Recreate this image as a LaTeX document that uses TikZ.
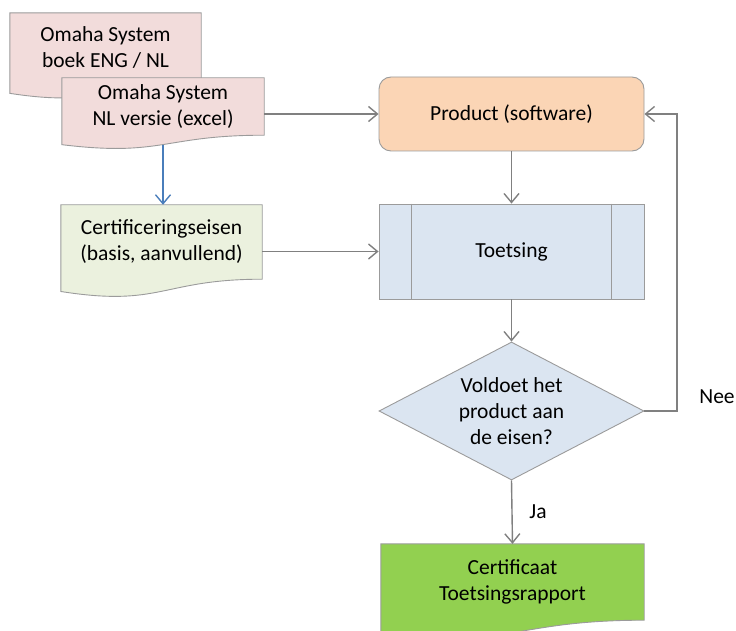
\documentclass[tikz,border=0pt]{standalone}
\usepackage{fontspec}
\setmainfont{Carlito}
\usetikzlibrary{shapes.geometric,arrows.meta,calc,backgrounds}

\definecolor{shapeline}{RGB}{155,155,155}
\definecolor{conline}{RGB}{128,128,128}
\definecolor{arrowblue}{RGB}{74,126,187}
\definecolor{pinkfill}{RGB}{242,220,219}
\definecolor{orangefill}{RGB}{251,213,181}
\definecolor{bluefill}{RGB}{219,229,241}
\definecolor{certfill}{RGB}{235,241,222}
\definecolor{greenfill}{RGB}{146,208,80}

\tikzset{
  docnode/.style={inner sep=0pt, align=center},
  procbox/.style={draw=shapeline, line width=0.9pt, inner sep=0pt, align=center,
    minimum width=265pt},
  conn/.style={draw=conline, line width=1.4pt, -{Straight Barb[length=9pt,width=15pt]}}
}

% document outline with the wavy bottom, drawn behind the node
\newcommand{\docshape}[2]{%
  \path[draw=shapeline, fill=#2, line width=0.9pt]
    (#1.north west) -- (#1.north east) -- (#1.south east)
    .. controls (#1.south) and ($(#1.north)!1.380!(#1.south)$) ..
    ($(#1.north west)!1.165!(#1.south west)$) -- cycle;
  \coordinate (#1-foot) at ($(#1.north)!1.163!(#1.south)$);
}

\begin{document}
\begin{tikzpicture}[x=1pt, y=-1pt, font=\fontsize{21.5}{26}\selectfont]
    \useasboundingbox (0,0) rectangle (736,631);

    % left column
    \node[docnode, minimum width=191pt, minimum height=68.7pt] (boek) at (105.5,47.4)
      {Omaha System\\boek ENG / NL};
    \node[docnode, minimum width=202pt, minimum height=57pt] (excel) at (163,106.5)
      {Omaha System\\NL versie (excel)};
    \node[docnode, minimum width=201pt, minimum height=74pt] (eisen) at (161.5,242)
      {Certificeringseisen\\(basis, aanvullend)};

    % right column
    \node[procbox, fill=orangefill, rounded corners=12pt, minimum height=74pt] (product)
      at (511.5,114) {Product (software)};
    \node[procbox, fill=bluefill, minimum height=95pt] (toets) at (511.5,251.5) {Toetsing};
    \draw[draw=shapeline, line width=0.9pt]
      ($(toets.north west)+(33,0)$) -- ($(toets.south west)+(33,0)$)
      ($(toets.north east)+(-33,0)$) -- ($(toets.south east)+(-33,0)$);
    \node[diamond, draw=shapeline, fill=bluefill, line width=0.9pt, inner sep=0pt,
      aspect=1.9, minimum width=265pt, minimum height=138pt, align=center] (check)
      at (511.5,411) {Voldoet het\\product aan\\de eisen?};
    \node[docnode, minimum width=263pt, minimum height=76pt] (certif) at (512.5,582)
      {Certificaat\\Toetsingsrapport};

    \begin{scope}[on background layer]
      \docshape{boek}{pinkfill}
      \docshape{excel}{pinkfill}
      \docshape{eisen}{certfill}
      \docshape{certif}{greenfill}
    \end{scope}

    % connectors
    \draw[conn] (product.west -| excel.east) -- (product.west);
    \draw[conn, draw=arrowblue] (excel-foot) -- (excel-foot |- eisen.north);
    \draw[conn] (toets.west -| eisen.east) -- (toets.west);
    \draw[conn] (product.south) -- (toets.north);
    \draw[conn] (toets.south) -- (check.north);
    \draw[conn] (check.south) -- (certif.north);
    \coordinate (loop) at (677,411);
    \draw[conn] (check.east) -- (loop) |- (product.east);

    \node (ja) at (538,512) {Ja};
    \node (nee) at (717,397) {Nee};
  \end{tikzpicture}
\end{document}
